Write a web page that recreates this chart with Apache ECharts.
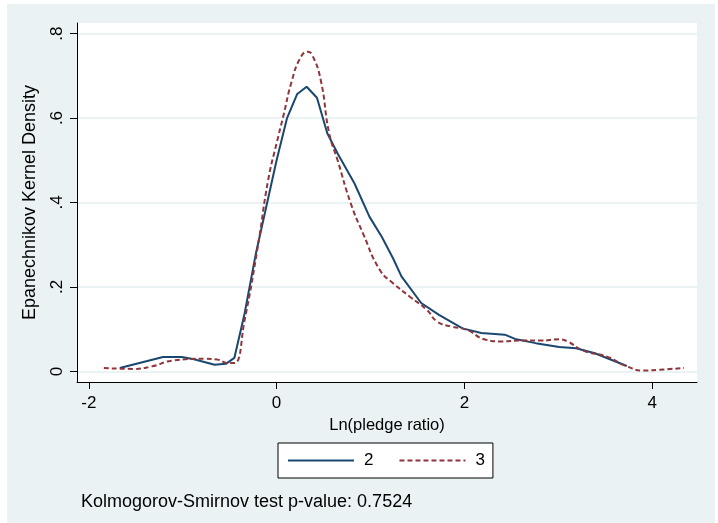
<!DOCTYPE html>
<html>
<head>
<meta charset="utf-8">
<script src="https://cdn.jsdelivr.net/npm/echarts@6/dist/echarts.min.js"></script>
<style>
  html, body { margin: 0; padding: 0; background: #fff; }
  #bg { position: absolute; left: 7px; top: 4px; width: 708px; height: 519px; background: #eaf2f3; }
  #main { position: absolute; left: 0; top: 0; width: 718px; height: 523px; }
</style>
</head>
<body>
<div id="bg"></div>
<div id="main"></div>
<script>
  // group 2 (solid)
  var x2 = [-1.67, -1.21, -1.01, -0.88, -0.66, -0.54, -0.45, -0.34, -0.22, -0.11, 0, 0.11, 0.22, 0.32,
            0.43, 0.54, 0.65, 0.83, 0.99, 1.12, 1.24, 1.33, 1.54, 1.73, 1.98, 2.18, 2.43, 2.54, 2.76,
            3.01, 3.19, 3.39, 3.73];
  var y2 = [0.008, 0.034, 0.034, 0.029, 0.016, 0.018, 0.032, 0.138, 0.28, 0.39, 0.50, 0.599, 0.657, 0.674,
            0.648, 0.564, 0.516, 0.445, 0.366, 0.319, 0.268, 0.225, 0.162, 0.134, 0.102, 0.091, 0.087, 0.077, 0.067,
            0.058, 0.055, 0.043, 0.013];
  // group 3 (dashed)
  var x3 = [-1.84, -1.53, -1.33, -1.10, -0.76, -0.63, -0.52, -0.45, -0.34, -0.20, -0.09, 0, 0.07, 0.16,
            0.25, 0.33, 0.38, 0.47, 0.56, 0.65, 0.79, 0.92, 1.10, 1.24, 1.42, 1.60, 1.71, 1.87, 2.02,
            2.23, 2.40, 2.58, 2.81, 3.01, 3.10, 3.26, 3.53, 3.73, 3.91, 4.07, 4.34];
  var y3 = [0.008, 0.006, 0.012, 0.026, 0.030, 0.028, 0.020, 0.020, 0.122, 0.296, 0.453, 0.54, 0.603, 0.686,
            0.741, 0.757, 0.749, 0.69, 0.564, 0.50, 0.398, 0.327, 0.24, 0.209, 0.177, 0.146, 0.118, 0.106, 0.099,
            0.075, 0.071, 0.073, 0.073, 0.076, 0.071, 0.05, 0.034, 0.012, 0.002, 0.004, 0.008];
  var xTicks = [-2, 0, 2, 4];
  var yTicks = [0, 0.2, 0.4, 0.6, 0.8];

  function zip(a, b) {
    return a.map(function (v, i) { return [v, b[i]]; });
  }

  var font = "'Liberation Sans', Arial, sans-serif";
  var chart = echarts.init(document.getElementById('main'));
  chart.setOption({
    backgroundColor: 'transparent',
    animation: false,
    textStyle: { fontFamily: font },
    grid: {
      left: 77, right: 21, top: 23, bottom: 141,
      show: true, backgroundColor: '#fff', borderWidth: 0
    },
    title: {
      text: 'Kolmogorov-Smirnov test p-value: 0.7524',
      left: 76, top: 488,
      textStyle: { fontFamily: font, fontSize: 18, fontWeight: 'normal', color: '#000' }
    },
    legend: {
      left: 278, top: 443,
      padding: [9, 8, 9, 9],
      itemGap: 25,
      itemWidth: 66, itemHeight: 14,
      backgroundColor: '#fff',
      borderColor: '#000', borderWidth: 1, borderRadius: 0,
      itemStyle: { opacity: 0 },
      textStyle: { fontFamily: font, fontSize: 17, color: '#000', padding: [0, 0, 0, 5] },
      data: ['2', '3']
    },
    xAxis: {
      type: 'value',
      min: -2.126, max: 4.478,
      name: 'Ln(pledge ratio)',
      nameLocation: 'middle', nameGap: 30,
      nameTextStyle: { fontFamily: font, fontSize: 16.5, color: '#000' },
      axisLine: { onZero: false, lineStyle: { color: '#000', width: 1 } },
      axisTick: { customValues: xTicks, length: 7, lineStyle: { color: '#000' } },
      axisLabel: { customValues: xTicks, fontFamily: font, fontSize: 17, color: '#000', margin: 13 },
      splitLine: { show: false }
    },
    yAxis: {
      type: 'value',
      min: -0.025, max: 0.825,
      name: 'Epanechnikov Kernel Density',
      nameLocation: 'middle', nameGap: 38,
      nameTextStyle: { fontFamily: font, fontSize: 18, color: '#000' },
      axisLine: { show: true, onZero: false, lineStyle: { color: '#000', width: 1 } },
      axisTick: { show: true, customValues: yTicks, length: 7, lineStyle: { color: '#000' } },
      axisLabel: {
        customValues: yTicks, rotate: 90, fontFamily: font, fontSize: 17, color: '#000', margin: 11,
        formatter: function (v) { return v === 0 ? '0' : String(+v.toFixed(1)).replace('0.', '.'); }
      },
      splitLine: { show: true, lineStyle: { color: '#eaf2f3', width: 2 } }
    },
    series: [
      {
        name: '2', type: 'line', symbol: 'none', smooth: false,
        lineStyle: { color: '#1a476f', width: 2 },
        itemStyle: { color: '#1a476f' },
        data: zip(x2, y2)
      },
      {
        name: '3', type: 'line', symbol: 'none', smooth: true,
        lineStyle: { color: '#90353b', width: 2, type: [5, 3] },
        itemStyle: { color: '#90353b' },
        data: zip(x3, y3)
      }
    ]
  });
</script>
</body>
</html>
